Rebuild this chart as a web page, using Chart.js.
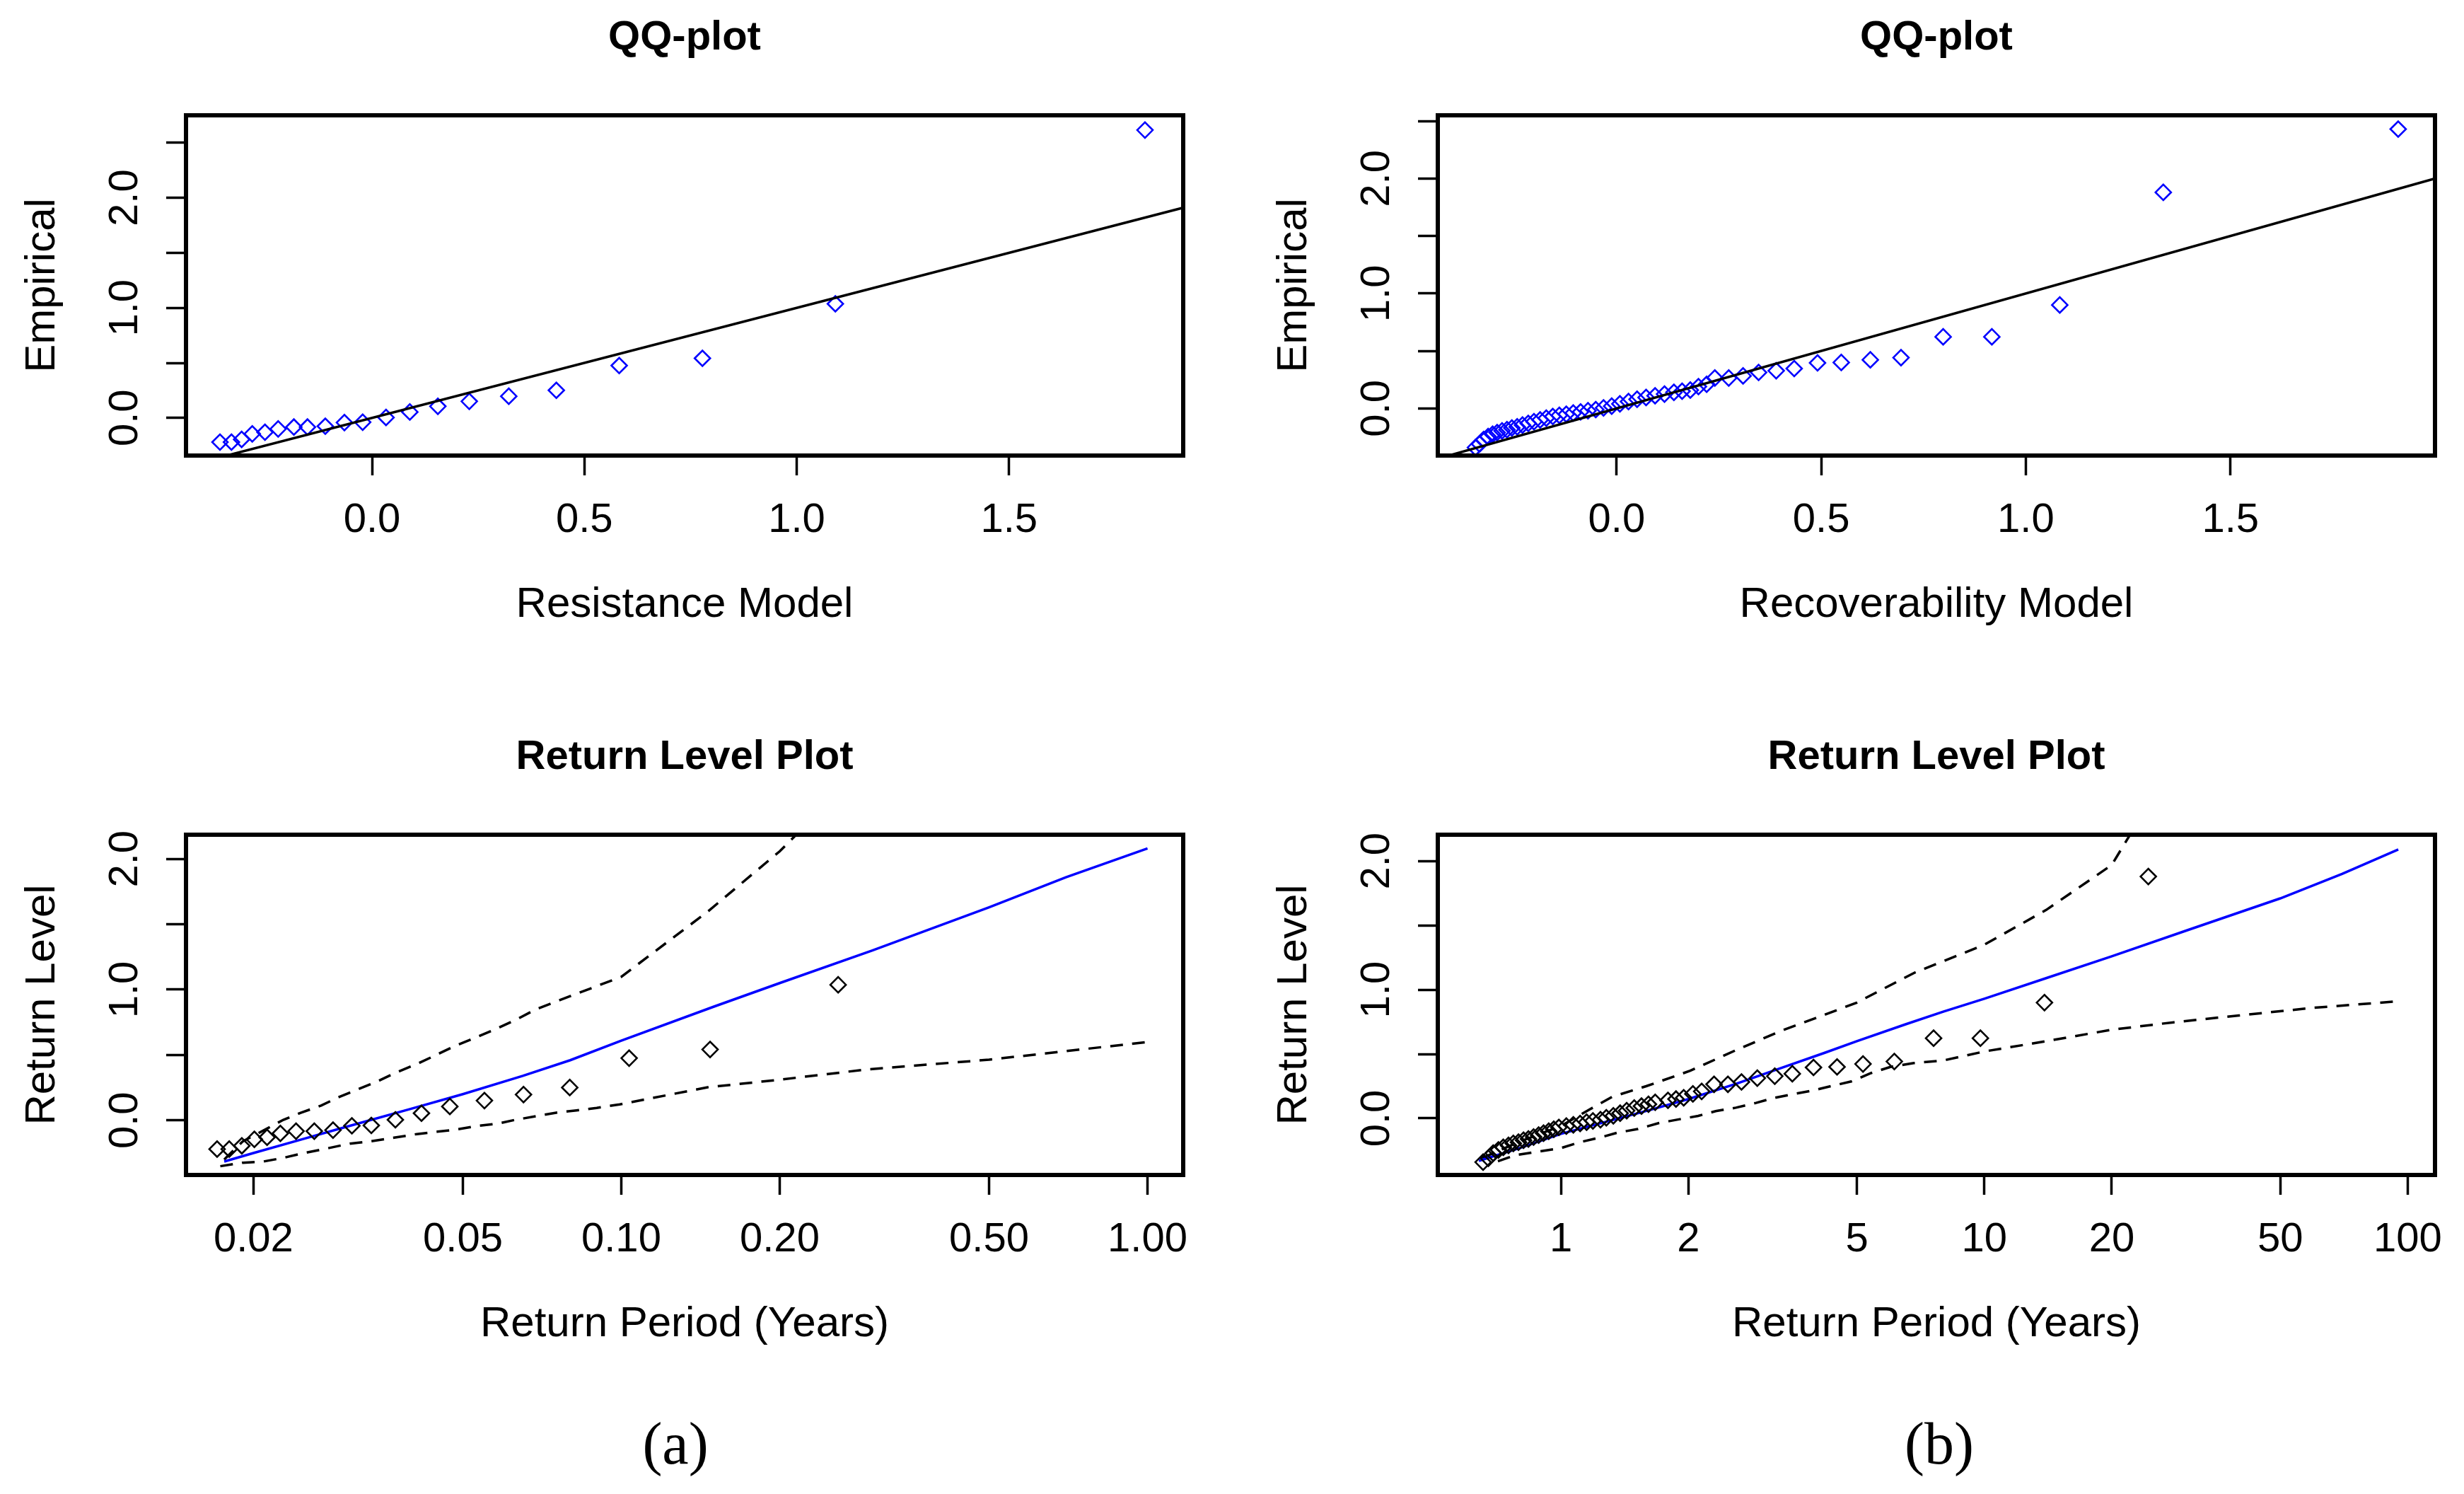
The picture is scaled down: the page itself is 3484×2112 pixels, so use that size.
<!DOCTYPE html>
<html>
<head>
<meta charset="utf-8">
<script src="https://cdn.jsdelivr.net/npm/chart.js@4.4.1/dist/chart.umd.min.js"></script>
<style>
  body { margin: 0; background: #fff; width: 3484px; height: 2112px; position: relative; overflow: hidden; }
  canvas { position: absolute; }
  .cap { position: absolute; font-family: "Liberation Serif", "Times New Roman", serif; font-size: 84px; color: #000; transform: translate(-50%, -50%); }
</style>
</head>
<body>
<canvas id="qqRes" width="1742" height="900" style="left:0px;top:0px"></canvas>
<canvas id="qqRec" width="1742" height="900" style="left:1742px;top:0px"></canvas>
<canvas id="rlRes" width="1742" height="900" style="left:0px;top:1017px"></canvas>
<canvas id="rlRec" width="1742" height="900" style="left:1742px;top:1017px"></canvas>
<div class="cap" style="left:955px;top:2040px">(a)</div>
<div class="cap" style="left:2742px;top:2040px">(b)</div>
<script>
// ---- (a) resistance model ----
const resModel = [-0.358, -0.331, -0.307, -0.282, -0.252, -0.221, -0.184, -0.152, -0.110, -0.065, -0.022, 0.033, 0.089, 0.155, 0.229, 0.322, 0.434, 0.582, 0.778, 1.091, 1.820];
const resEmpirical = [-0.220, -0.220, -0.195, -0.145, -0.130, -0.100, -0.083, -0.083, -0.075, -0.042, -0.039, 0.004, 0.054, 0.106, 0.151, 0.197, 0.251, 0.476, 0.542, 1.037, 2.616];
const resPeriod = [0.01706, 0.01799, 0.01901, 0.02008, 0.02123, 0.0225, 0.0241, 0.0261, 0.02833, 0.03077, 0.0335, 0.03722, 0.04172, 0.04723, 0.05495, 0.0652, 0.07982, 0.1035, 0.1475, 0.2583];

const resRlPeriod = [0.0176, 0.02, 0.025, 0.03, 0.04, 0.05, 0.065, 0.08, 0.1, 0.15, 0.2, 0.3, 0.5, 0.7, 1.0];
const resRlLevel = [-0.315, -0.25, -0.14, -0.05, 0.09, 0.2, 0.34, 0.46, 0.61, 0.87, 1.05, 1.30, 1.63, 1.86, 2.08];
const resUpPeriod = [0.0176, 0.0191, 0.0209, 0.0228, 0.0246, 0.0269, 0.029, 0.0313, 0.0343, 0.0374, 0.0409, 0.0447, 0.0482, 0.0527, 0.0575, 0.0629, 0.0688, 0.08, 0.1, 0.146, 0.2, 0.25];
const resUpLevel = [-0.30, -0.16, -0.078, 0.004, 0.058, 0.113, 0.176, 0.231, 0.295, 0.367, 0.431, 0.504, 0.567, 0.631, 0.695, 0.767, 0.849, 0.95, 1.098, 1.597, 2.058, 2.45];
const resLowPeriod = [0.0173, 0.0191, 0.0209, 0.0228, 0.0249, 0.0276, 0.0305, 0.0334, 0.037, 0.0409, 0.0447, 0.0482, 0.0535, 0.0584, 0.0629, 0.0688, 0.0752, 0.0822, 0.0898, 0.0993, 0.146, 0.2, 0.291, 0.5, 1.0];
const resLowLevel = [-0.351, -0.324, -0.315, -0.287, -0.251, -0.215, -0.178, -0.160, -0.133, -0.105, -0.087, -0.073, -0.042, -0.024, 0.004, 0.031, 0.058, 0.076, 0.095, 0.122, 0.253, 0.311, 0.388, 0.464, 0.599];

// ---- (b) recoverability model ----
const recModel = [-0.345, -0.335, -0.325, -0.314, -0.303, -0.292, -0.280, -0.268, -0.256, -0.243, -0.230, -0.216, -0.202, -0.187, -0.172, -0.156, -0.140, -0.123, -0.106, -0.088, -0.070, -0.051, -0.032, -0.012, 0.008, 0.029, 0.050, 0.072, 0.094, 0.117, 0.140, 0.160, 0.180, 0.200, 0.220,
  0.240, 0.274, 0.309, 0.347, 0.390, 0.434, 0.491, 0.549, 0.620, 0.695, 0.798, 0.917, 1.083, 1.336, 1.910];
const recEmpirical = [-0.34, -0.31, -0.27, -0.245, -0.225, -0.21, -0.195, -0.185, -0.17, -0.16, -0.145, -0.13, -0.115, -0.10, -0.085, -0.07, -0.06, -0.05, -0.04, -0.03, -0.02, -0.01, 0.005, 0.02, 0.04, 0.06, 0.08, 0.095, 0.11, 0.125, 0.14, 0.15, 0.16, 0.19, 0.21,
  0.265, 0.265, 0.283, 0.313, 0.328, 0.347, 0.396, 0.40, 0.423, 0.442, 0.623, 0.623, 0.90, 1.88, 2.43];
const recPeriod = [0.655, 0.674, 0.692, 0.712, 0.731, 0.752, 0.772, 0.794, 0.816, 0.838, 0.862, 0.886, 0.910, 0.936, 0.962, 0.989, 1.03, 1.07, 1.11, 1.15, 1.19, 1.24, 1.28, 1.33, 1.38, 1.43, 1.49, 1.55, 1.61, 1.67, 1.79, 1.87, 1.95, 2.05, 2.15,
  2.30, 2.48, 2.67, 2.91, 3.20, 3.52, 3.95, 4.49, 5.17, 6.13, 7.59, 9.79, 13.87, 24.4];

const recRlPeriod = [0.64, 0.8, 1.0, 1.3, 1.6, 2.0, 2.6, 3.3, 4.2, 5.0, 6.5, 8.0, 10, 14, 20, 30, 50, 70, 95];
const recRlLevel = [-0.33, -0.23, -0.12, -0.02, 0.06, 0.15, 0.27, 0.39, 0.51, 0.60, 0.73, 0.83, 0.93, 1.09, 1.26, 1.46, 1.71, 1.90, 2.09];
const recUpPeriod = [0.65, 0.8, 1.0, 1.17, 1.32, 1.59, 2.02, 2.59, 3.31, 4.0, 5.0, 6.82, 10, 14, 20, 23];
const recUpLevel = [-0.31, -0.18, -0.06, 0.07, 0.167, 0.25, 0.37, 0.53, 0.68, 0.78, 0.90, 1.13, 1.35, 1.62, 1.97, 2.3];
const recLowPeriod = [0.71, 0.78, 0.88, 1.0, 1.11, 1.24, 1.36, 1.52, 1.7, 1.89, 2.11, 2.32, 2.59, 2.89, 3.17, 3.49, 3.89, 4.34, 4.85, 5.4, 6.0, 6.82, 8, 10, 14, 20, 28, 40, 60, 95];
const recLowLevel = [-0.333, -0.287, -0.259, -0.231, -0.185, -0.148, -0.111, -0.083, -0.037, -0.009, 0.019, 0.056, 0.083, 0.12, 0.157, 0.185, 0.213, 0.25, 0.287, 0.352, 0.40, 0.43, 0.45, 0.52, 0.60, 0.689, 0.747, 0.80, 0.86, 0.91];

// ---- axis ticks ----
const qqXTicks = [0, 0.5, 1, 1.5];
const qqXLabels = ['0.0', '0.5', '1.0', '1.5'];
const qqYTicks = [0, 0.5, 1, 1.5, 2, 2.5];
const rlYTicks = [0, 0.5, 1, 1.5, 2];
const yLabels = ['0.0', '', '1.0', '', '2.0', ''];
const resRlXTicks = [0.02, 0.05, 0.1, 0.2, 0.5, 1];
const resRlXLabels = ['0.02', '0.05', '0.10', '0.20', '0.50', '1.00'];
const recRlXTicks = [1, 2, 5, 10, 20, 50, 100];
const recRlXLabels = ['1', '2', '5', '10', '20', '50', '100'];

const FONT = "'Liberation Sans', Arial, sans-serif";

function pairs(xs, ys) {
    return xs.map((x, i) => ({ x: x, y: ys[i] }));
}

// black frame around the plotting region, like R's box()
const boxPlugin = {
    id: 'box',
    afterDraw(chart) {
        const a = chart.chartArea;
        const ctx = chart.ctx;
        ctx.save();
        ctx.strokeStyle = '#000';
        ctx.lineWidth = 6;
        ctx.strokeRect(a.left, a.top, a.right - a.left, a.bottom - a.top);
        ctx.restore();
    }
};

function diamonds(data, color) {
    return {
        data: data, pointStyle: 'rectRot', pointRadius: 11, pointBorderWidth: 2.6,
        borderColor: color, backgroundColor: 'rgba(0,0,0,0)', showLine: false
    };
}

function curve(data, color, dashed) {
    return {
        data: data, showLine: true, pointRadius: 0, borderColor: color,
        borderWidth: 3.5, borderDash: dashed ? [18, 13] : [], tension: 0
    };
}

function makePanel(id, p) {
    const tickGrid = { drawOnChartArea: false, drawTicks: true, tickLength: 28, tickWidth: 3.5, tickColor: '#000' };
    new Chart(document.getElementById(id), {
        type: 'scatter',
        data: { datasets: p.datasets },
        options: {
            responsive: false,
            animation: false,
            devicePixelRatio: 1,
            layout: { padding: { left: 0, right: p.padRight, top: 0, bottom: 0 } },
            plugins: {
                legend: { display: false },
                tooltip: { enabled: false },
                title: {
                    display: true, text: p.title, color: '#000', fullSize: false,
                    font: { family: FONT, size: 58, weight: 'bold' },
                    padding: { top: 19, bottom: 74.4 }
                }
            },
            scales: {
                x: {
                    type: p.xType, min: p.xMin, max: p.xMax,
                    afterBuildTicks: s => { s.ticks = p.xTicks.map(v => ({ value: v })); },
                    afterFit: s => { s.height = 256; s.paddingLeft = 0; s.paddingRight = 0; },
                    grid: tickGrid,
                    border: { display: false },
                    ticks: {
                        autoSkip: false, minRotation: 0, maxRotation: 0, padding: 29, color: '#000',
                        font: { family: FONT, size: 58 },
                        callback: (v, i) => p.xLabels[i]
                    },
                    title: {
                        display: true, text: p.xTitle, color: '#000',
                        font: { family: FONT, size: 60 }, padding: { top: 0, bottom: 9 }
                    }
                },
                y: {
                    min: p.yMin, max: p.yMax,
                    afterBuildTicks: s => { s.ticks = p.yTicks.map(v => ({ value: v })); },
                    afterFit: s => { s.width = p.yWidth; s.paddingTop = 0; s.paddingBottom = 0; },
                    grid: tickGrid,
                    border: { display: false },
                    ticks: {
                        autoSkip: false, minRotation: 90, maxRotation: 90, crossAlign: 'center',
                        padding: 17, color: '#000', font: { family: FONT, size: 58 },
                        callback: (v, i) => yLabels[i]
                    },
                    title: {
                        display: true, text: p.yTitle, color: '#000',
                        font: { family: FONT, size: 60 }, padding: { top: p.yWidth - 203 - 36, bottom: 0 }
                    }
                }
            }
        },
        plugins: [boxPlugin]
    });
}

makePanel('qqRes', {
    title: 'QQ-plot', xTitle: 'Resistance Model', yTitle: 'Empirical',
    xType: 'linear', xMin: -0.438, xMax: 1.91, yMin: -0.342, yMax: 2.75,
    xTicks: qqXTicks, xLabels: qqXLabels, yTicks: qqYTicks, yWidth: 263, padRight: 69,
    datasets: [
        curve(pairs([-1, 3], [-1, 3]), '#000', false),
        diamonds(pairs(resModel, resEmpirical), '#0000ff')
    ]
});

makePanel('qqRec', {
    title: 'QQ-plot', xTitle: 'Recoverability Model', yTitle: 'Empirical',
    xType: 'linear', xMin: -0.437, xMax: 2.0, yMin: -0.41, yMax: 2.55,
    xTicks: qqXTicks, xLabels: qqXLabels, yTicks: qqYTicks, yWidth: 291, padRight: 41,
    datasets: [
        curve(pairs([-1, 3], [-1, 3]), '#000', false),
        diamonds(pairs(recModel, recEmpirical), '#0000ff')
    ]
});

makePanel('rlRes', {
    title: 'Return Level Plot', xTitle: 'Return Period (Years)', yTitle: 'Return Level',
    xType: 'logarithmic', xMin: 0.01489, xMax: 1.169, yMin: -0.418, yMax: 2.185,
    xTicks: resRlXTicks, xLabels: resRlXLabels, yTicks: rlYTicks, yWidth: 263, padRight: 69,
    datasets: [
        diamonds(pairs(resPeriod, resEmpirical), '#000'),
        curve(pairs(resRlPeriod, resRlLevel), '#0000ff', false),
        curve(pairs(resUpPeriod, resUpLevel), '#000', true),
        curve(pairs(resLowPeriod, resLowLevel), '#000', true)
    ]
});

makePanel('rlRec', {
    title: 'Return Level Plot', xTitle: 'Return Period (Years)', yTitle: 'Return Level',
    xType: 'logarithmic', xMin: 0.512, xMax: 116, yMin: -0.44, yMax: 2.205,
    xTicks: recRlXTicks, xLabels: recRlXLabels, yTicks: rlYTicks, yWidth: 291, padRight: 41,
    datasets: [
        diamonds(pairs(recPeriod, recEmpirical), '#000'),
        curve(pairs(recRlPeriod, recRlLevel), '#0000ff', false),
        curve(pairs(recUpPeriod, recUpLevel), '#000', true),
        curve(pairs(recLowPeriod, recLowLevel), '#000', true)
    ]
});
</script>
</body>
</html>
